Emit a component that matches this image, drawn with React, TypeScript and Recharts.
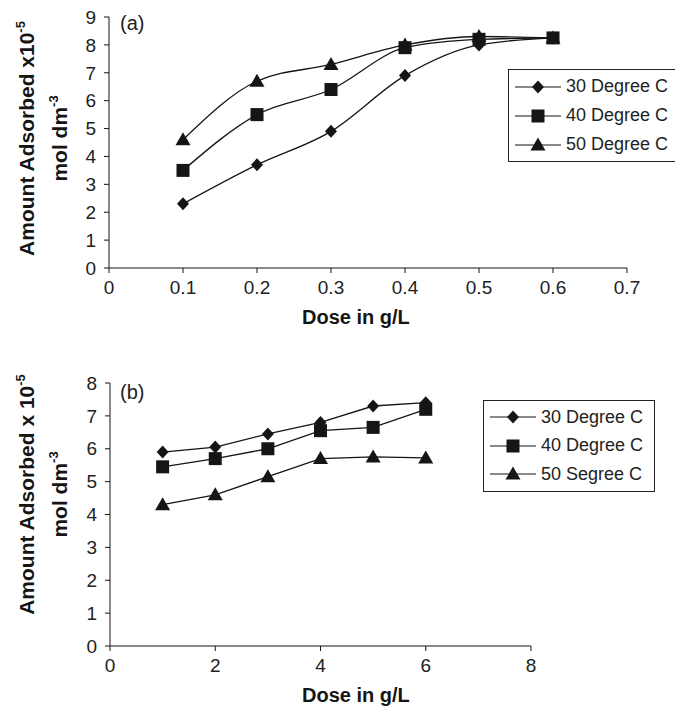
import React from 'react'
import { LineChart, Line, XAxis, YAxis, Legend, Label } from 'recharts'

// panel (a)
const doseA = [0.1, 0.2, 0.3, 0.4, 0.5, 0.6]
const a30 = [2.3, 3.7, 4.9, 6.9, 8.0, 8.25]
const a40 = [3.5, 5.5, 6.4, 7.9, 8.2, 8.25]
const a50 = [4.6, 6.7, 7.3, 8.0, 8.3, 8.25]
const ticksXA = [0, 0.1, 0.2, 0.3, 0.4, 0.5, 0.6, 0.7]
const ticksYA = [0, 1, 2, 3, 4, 5, 6, 7, 8, 9]

// panel (b)
const doseB = [1, 2, 3, 4, 5, 6]
const b30 = [5.9, 6.05, 6.45, 6.8, 7.3, 7.4]
const b40 = [5.45, 5.7, 6.0, 6.55, 6.65, 7.2]
const b50 = [4.3, 4.6, 5.15, 5.7, 5.75, 5.72]
const ticksXB = [0, 2, 4, 6, 8]
const ticksYB = [0, 1, 2, 3, 4, 5, 6, 7, 8]

const namesA = ['30 Degree C', '40 Degree C', '50 Degree C']
const namesB = ['30 Degree C', '40 Degree C', '50 Segree C']
const shapes = ['diamond', 'square', 'triangle']

const dataA = doseA.map((d, i) => ({ dose: d, s30: a30[i], s40: a40[i], s50: a50[i] }))
const dataB = doseB.map((d, i) => ({ dose: d, s30: b30[i], s40: b40[i], s50: b50[i] }))

const FONT = '"Liberation Sans", Arial, sans-serif'
const INK = '#151515'

const Marker = ({ kind, cx, cy }: { kind: string; cx: number; cy: number }) => {
  if (cx == null || cy == null) return null
  if (kind === 'diamond')
    return <polygon points={`${cx},${cy - 6.5} ${cx + 6},${cy} ${cx},${cy + 6.5} ${cx - 6},${cy}`} fill={INK} />
  if (kind === 'square') return <rect x={cx - 6.5} y={cy - 6.5} width={13} height={13} fill={INK} />
  return <polygon points={`${cx},${cy - 7.5} ${cx + 7.5},${cy + 5.5} ${cx - 7.5},${cy + 5.5}`} fill={INK} />
}

const dotFor = (kind: string) => (p: any) => <Marker key={`${kind}-${p.index}`} kind={kind} cx={p.cx} cy={p.cy} />

const makeLegend = (names: string[], rowH: number, w: number) => () => (
  <div style={{ boxSizing: 'border-box', width: w, border: '1.5px solid #222', background: '#fff', padding: '2px 6px', fontFamily: FONT, fontSize: 18, color: '#222' }}>
    {names.map((n, i) => (
      <div key={n} style={{ display: 'flex', alignItems: 'center', height: rowH }}>
        <svg width={46} height={18} style={{ marginRight: 5 }}>
          <line x1={0} y1={9} x2={46} y2={9} stroke={INK} strokeWidth={1.2} />
          <Marker kind={shapes[i]} cx={23} cy={9} />
        </svg>
        <span style={{ whiteSpace: 'nowrap' }}>{n}</span>
      </div>
    ))}
  </div>
)

const yTitle = (line1: string, sup1: string, shift: number) => (props: any) => {
  const vb = props.viewBox
  const cy = vb.y + vb.height / 2 + shift
  return (
    <g fontFamily={FONT} fontWeight="bold" fontSize={21} fill={INK}>
      <text transform={`translate(34,${cy}) rotate(-90)`} textAnchor="middle">
        {line1}
        <tspan dy={-9} fontSize={13}>{sup1}</tspan>
      </text>
      <text transform={`translate(67,${cy}) rotate(-90)`} textAnchor="middle">
        mol dm
        <tspan dy={-9} fontSize={13}>-3</tspan>
      </text>
    </g>
  )
}

const xTitle = (below: number) => (props: any) => {
  const vb = props.viewBox
  return (
    <text x={302} y={vb.y + below} textAnchor="start" fontFamily={FONT} fontWeight="bold" fontSize={20} fill={INK}>
      Dose in g/L
    </text>
  )
}

const tickStyle = { fontFamily: FONT, fontSize: 19, fill: '#222' }

const App: React.FC = () => {
  return (
    <div style={{ position: 'absolute', left: 0, top: 0, width: 675, height: 707, background: '#fff', overflow: 'hidden' }}>
      <LineChart width={675} height={350} data={dataA} margin={{ top: 17, right: 48, left: 0, bottom: 52 }}>
        <XAxis dataKey="dose" type="number" domain={[0, 0.7]} ticks={ticksXA} height={30}
          tickSize={5} tickMargin={8} tick={tickStyle} stroke={INK} tickLine={{ stroke: INK }}
          tickFormatter={(v: number) => String(v)}>
          <Label content={xTitle(56)} />
        </XAxis>
        <YAxis type="number" domain={[0, 9]} ticks={ticksYA} width={109} interval={0}
          tickSize={5} tickMargin={8} tick={tickStyle} stroke={INK} tickLine={{ stroke: INK }}>
          <Label content={yTitle('Amount Adsorbed x10', '-5', -4)} />
        </YAxis>
        <Legend layout="vertical" align="center" verticalAlign="middle" content={makeLegend(namesA, 29, 180)}
          wrapperStyle={{ left: 508, top: 69, width: 180 }} />
        {['s30', 's40', 's50'].map((k, i) => (
          <Line key={k} type="monotone" dataKey={k} name={namesA[i]} stroke={INK} strokeWidth={1.3}
            dot={dotFor(shapes[i])} activeDot={false} isAnimationActive={false} />
        ))}
      </LineChart>
      <div style={{ position: 'absolute', left: 120, top: 12, fontFamily: FONT, fontSize: 20, color: '#222' }}>(a)</div>

      <LineChart width={675} height={357} data={dataB} margin={{ top: 33, right: 144, left: 0, bottom: 31 }}>
        <XAxis dataKey="dose" type="number" domain={[0, 8]} ticks={ticksXB} height={30}
          tickSize={5} tickMargin={8} tick={tickStyle} stroke={INK} tickLine={{ stroke: INK }}>
          <Label content={xTitle(56)} />
        </XAxis>
        <YAxis type="number" domain={[0, 8]} ticks={ticksYB} width={110} interval={0}
          tickSize={5} tickMargin={8} tick={tickStyle} stroke={INK} tickLine={{ stroke: INK }}>
          <Label content={yTitle('Amount Adsorbed x 10', '-5', -20)} />
        </YAxis>
        <Legend layout="vertical" align="center" verticalAlign="middle" content={makeLegend(namesB, 28.5, 172)}
          wrapperStyle={{ left: 483, top: 50, width: 172 }} />
        {['s30', 's40', 's50'].map((k, i) => (
          <Line key={k} type="linear" dataKey={k} name={namesB[i]} stroke={INK} strokeWidth={1.3}
            dot={dotFor(shapes[i])} activeDot={false} isAnimationActive={false} />
        ))}
      </LineChart>
      <div style={{ position: 'absolute', left: 120, top: 381, fontFamily: FONT, fontSize: 20, color: '#222' }}>(b)</div>
    </div>
  )
}

export default App
